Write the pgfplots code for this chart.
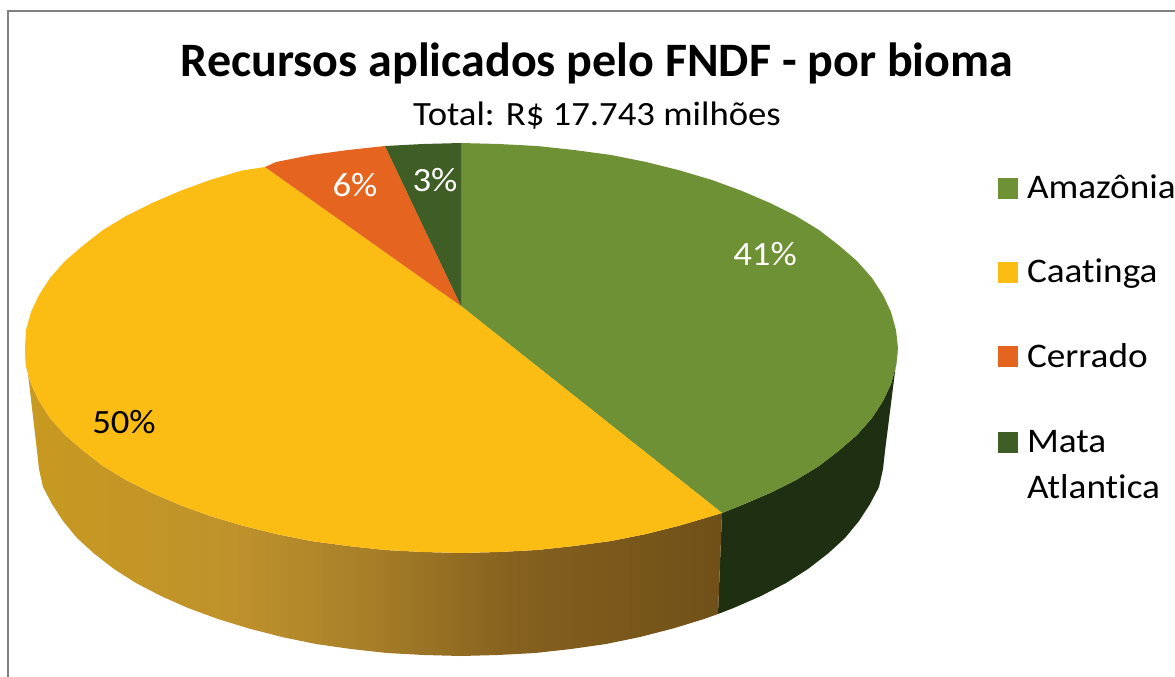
\documentclass[border=0pt]{standalone}
\usepackage{fontspec}
\setmainfont[Ligatures=NoCommon]{Carlito}
\newfontfamily\wide[FakeStretch=1.08,Ligatures=NoCommon]{Carlito}
\usepackage{pgfplots}
\pgfplotsset{compat=1.18}

% colours
\definecolor{amazonia}{HTML}{6F9136}
\definecolor{caatinga}{HTML}{FBBC13}
\definecolor{cerrado}{HTML}{E5641F}
\definecolor{mata}{HTML}{3F5E25}
\definecolor{sidedark}{HTML}{1F2F12}
\definecolor{frame}{HTML}{808080}
\definecolor{ys1}{HTML}{C89A20}
\definecolor{ys2}{HTML}{BF922C}
\definecolor{ys3}{HTML}{A67E28}
\definecolor{ys4}{HTML}{86611F}
\definecolor{ys5}{HTML}{6F5018}
\pgfdeclarehorizontalshading{yellowside}{100bp}{
  color(0bp)=(ys1); color(25bp)=(ys1); color(40bp)=(ys2); color(50bp)=(ys3);
  color(60bp)=(ys4); color(75bp)=(ys5); color(100bp)=(ys5)}
% two-line legend entry: square goes up to the first line
\pgfplotsset{raisedkey/.style={legend image code/.code={
    \path[##1] (0pt,46pt) rectangle (20pt,67pt);
    \path (29pt,0pt);
}}}

\begin{document}
\begin{tikzpicture}
\begin{axis}[
    scale only axis,
    width=1175pt, height=677pt,
    xmin=0, xmax=1175, ymin=0, ymax=677,
    y dir=reverse,
    hide axis,
    clip=false,
    legend cell align=left,
    legend style={
        at={(axis cs:998,175)}, anchor=north west,
        draw=none, fill=none, inner sep=0pt, outer sep=0pt,
        font=\wide\fontsize{34.5}{46}\selectfont,
        row sep=59pt,
        nodes={align=left, inner sep=0pt, anchor=base west},
    },
    legend image code/.code={
        \path[#1] (0pt,0pt) rectangle (20pt,21pt);
        \path (29pt,0pt);
    },
]
% side walls
\addplot[draw=none, fill=sidedark, forget plot] coordinates {
  (722,513) (742,505) (770,493) (796,480) (819,466) (839,450.5) (857,435)
  (872,418) (883,401) (891,384) (896,366) (898,348)
  (885,451) (883,469) (879,487) (870,504) (859,521) (845,538) (828,553.5)
  (808,569) (786,583) (761,596) (733.5,608) (718,614)
} -- cycle;
\addplot[draw=none, shading=yellowside, forget plot] coordinates {
  (25,348) (26,366) (31,384) (39,401) (50,418) (65,435) (83,450.5) (103,466)
  (126,480) (152,493) (180,505) (210,516) (242,525.5) (276,534) (311,541)
  (348,546) (385,550) (423,552) (461,553) (499,552) (537,550) (574,546)
  (611,541) (646,534) (680,525.5) (712,516) (722,513)
  (718,614) (704,619) (673,628.5) (640,637) (606,644) (571,649) (535,653)
  (498,655) (461,656) (424,655) (387,653) (351,649) (316,644) (282,637)
  (249,628.5) (218,619) (188,608) (161,596) (136,583) (114,569) (94,553.5)
  (77,538) (63,521) (52,504) (43,487) (39,469) (37,451)
} -- cycle;
% top face
\addplot[draw=none, fill=amazonia] coordinates {
  (461,306) (461,143) (499,144) (537,146) (574,150) (611,155) (646,162)
  (680,170.5) (712,180) (742,191) (770,203) (796,216) (819,230) (839,245.5)
  (857,261) (872,278) (883,295) (891,312) (896,330) (898,348) (896,366)
  (891,384) (883,401) (872,418) (857,435) (839,450.5) (819,466) (796,480)
  (770,493) (742,505) (722,513)
} -- cycle;
\addlegendentry{Amazônia}
\addplot[draw=none, fill=caatinga] coordinates {
  (461,306) (265,167) (242,170.5) (210,180) (180,191) (152,203) (126,216)
  (103,230) (83,245.5) (65,261) (50,278) (39,295) (31,312) (26,330) (25,348)
  (26,366) (31,384) (39,401) (50,418) (65,435) (83,450.5) (103,466) (126,480)
  (152,493) (180,505) (210,516) (242,525.5) (276,534) (311,541) (348,546)
  (385,550) (423,552) (461,553) (499,552) (537,550) (574,546) (611,541)
  (646,534) (680,525.5) (712,516) (722,513)
} -- cycle;
\addlegendentry{Caatinga}
\addplot[draw=none, fill=cerrado] coordinates {
  (461,306) (385,146) (348,150) (311,155) (276,162) (265,167)
} -- cycle;
\addlegendentry{Cerrado}
\addplot[draw=none, fill=mata, raisedkey] coordinates {
  (461,306) (461,143) (423,144) (385,146)
} -- cycle;
\addlegendentry{\rule{0pt}{25pt}Mata\\Atlantica}

% frame and texts
\draw[frame, line width=2pt] (axis cs:8,677) -- (axis cs:8,11) -- (axis cs:1175,11);
\node[font=\bfseries\fontsize{48}{56}\selectfont, anchor=base] at (axis cs:597,77) {Recursos aplicados pelo FNDF - por bioma};
\node[font=\wide\fontsize{34}{40}\selectfont, anchor=base] at (axis cs:597,125) {Total: R\$ 17.743 milhões};
\node[font=\wide\fontsize{34}{40}\selectfont, text=white, anchor=base] at (axis cs:765,265) {41\%};
\node[font=\wide\fontsize{34}{40}\selectfont, anchor=base] at (axis cs:124,433) {50\%};
\node[font=\wide\fontsize{34}{40}\selectfont, text=white, anchor=base] at (axis cs:355,196) {6\%};
\node[font=\wide\fontsize{34}{40}\selectfont, text=white, anchor=base] at (axis cs:435,191) {3\%};
\end{axis}
\pgfresetboundingbox
\useasboundingbox (0,0) rectangle (1175pt,677pt);
\end{tikzpicture}
\end{document}
